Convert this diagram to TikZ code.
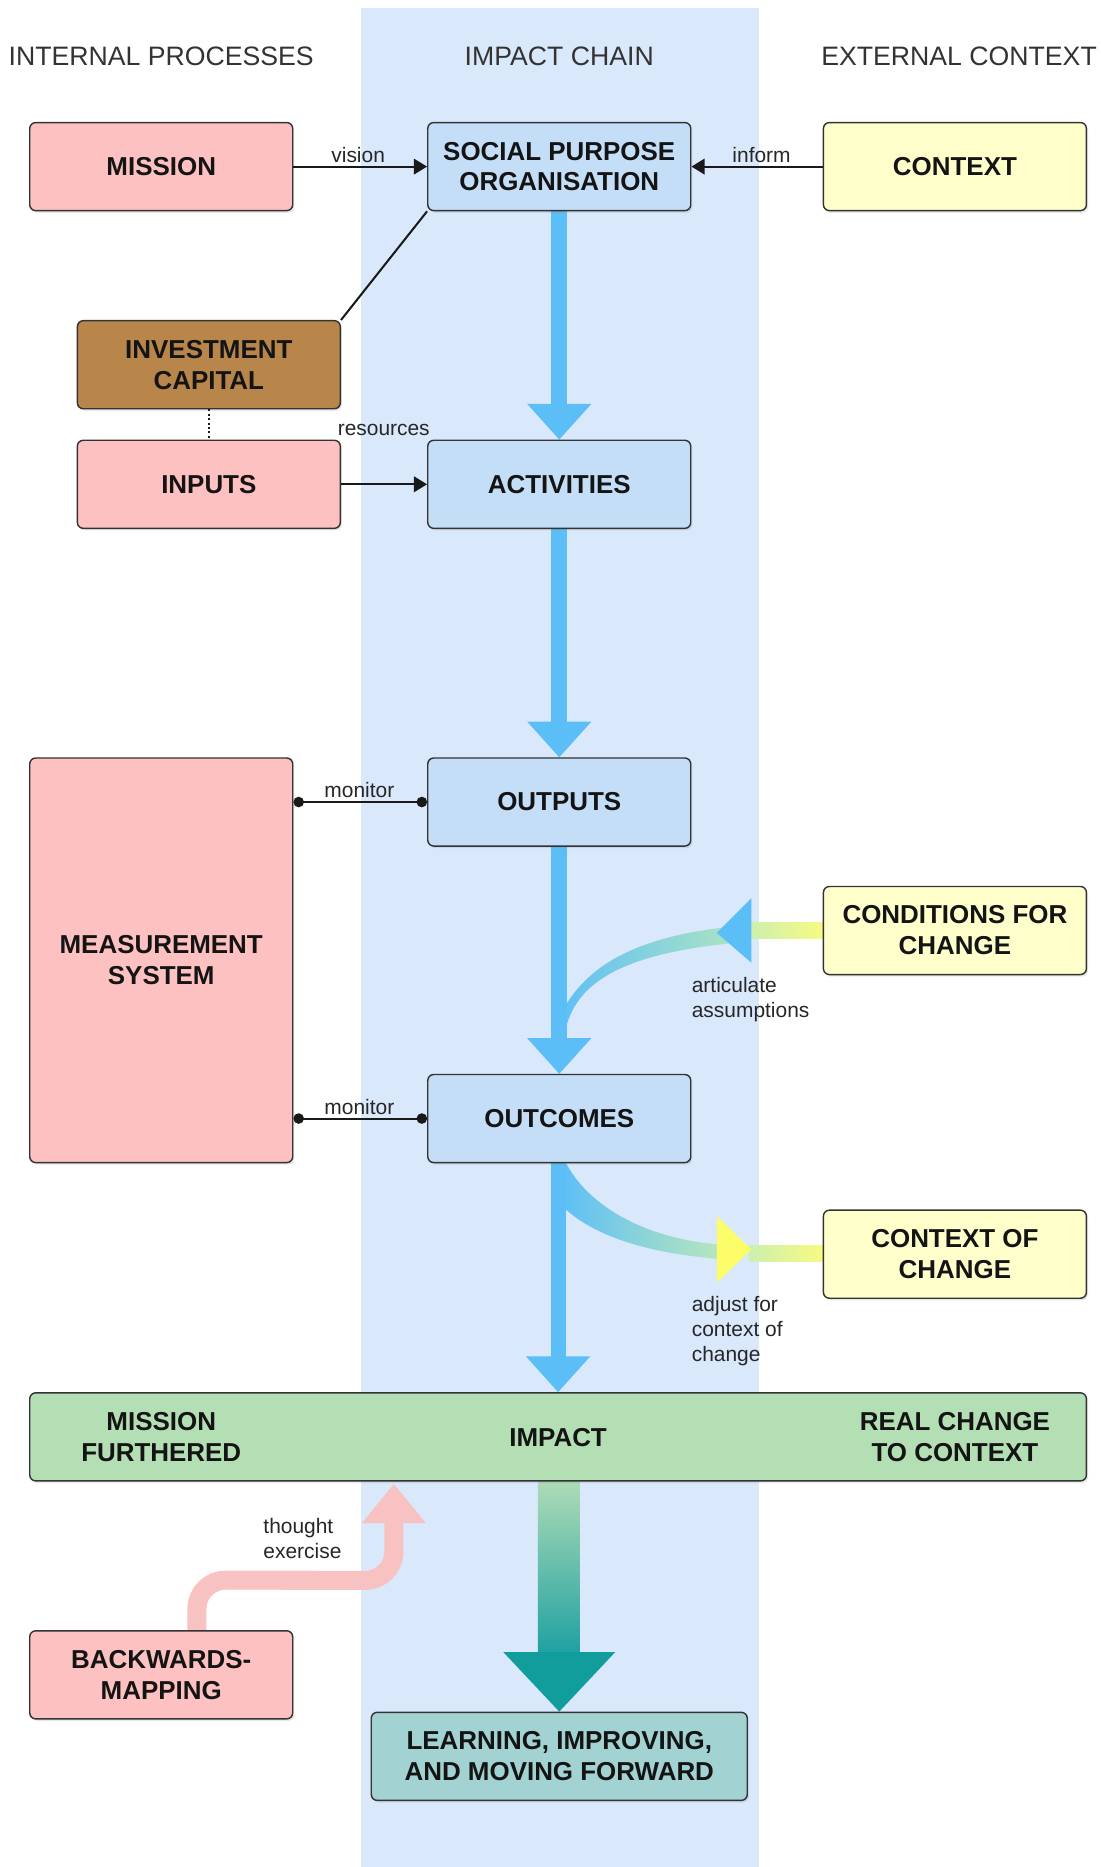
\documentclass[tikz,border=0pt]{standalone}
\usepackage{fontspec}
\setmainfont{Liberation Sans}
\usetikzlibrary{arrows.meta,calc,shadows}
\definecolor{bandblue}{HTML}{DAE8FC}
\definecolor{boxblue}{HTML}{C4DEF8}
\definecolor{boxpink}{HTML}{FDC1C1}
\definecolor{boxyellow}{HTML}{FFFFCC}
\definecolor{boxbrown}{HTML}{B8864B}
\definecolor{boxgreen}{HTML}{B4DFB4}
\definecolor{boxteal}{HTML}{A2D2D2}
\definecolor{flowblue}{HTML}{5CBEF7}
\definecolor{flowgreen}{HTML}{A8E2C6}
\definecolor{flowlime}{HTML}{CDEFAE}
\definecolor{flowyellow}{HTML}{FDFD6A}
\definecolor{flowpale}{HTML}{F8FA82}
\definecolor{arrowpink}{HTML}{F8C2C2}
\definecolor{tealtop}{HTML}{ADDBB6}
\definecolor{tealbot}{HTML}{1FA1A1}
\definecolor{tealhead}{HTML}{129D9D}
\definecolor{edge}{HTML}{333333}
\pgfdeclarelayer{bg}
\pgfdeclarelayer{mid}
\pgfsetlayers{bg,mid,main}
\newcommand\myflowarrow[2]{%
  \fill[flowblue] ($(#1.south)+(-6.75,0)$) rectangle ($(#2.north)+(6.75,-29)$);
  \fill[flowblue] ($(#2.north)+(-27,-30)$) -- ($(#2.north)+(27,-30)$) -- (#2.north) -- cycle;}
\begin{document}
\begin{tikzpicture}[x=0.5pt,y=-0.5pt,
  box/.style={draw=edge, line width=0.6pt, rounded corners=2.5pt,
    minimum width=110.5pt, minimum height=37pt, inner sep=0pt, align=center,
    font=\bfseries\fontsize{10.9}{13}\selectfont, text=black!92,
    drop shadow={shadow xshift=0.7pt, shadow yshift=-0.9pt, opacity=0.18}},
  plain/.style={inner sep=0pt, align=center, font=\bfseries\fontsize{10.9}{13}\selectfont, text=black!92},
  lbl/.style={inner sep=0pt, font=\fontsize{8.8}{10.5}\selectfont, text=black!85},
  hdr/.style={inner sep=0pt, font=\fontsize{11.2}{13}\selectfont, text=black!80},
  conn/.style={line width=0.85pt, draw=black!90},
  tip/.style={-{Triangle[length=5.5pt,width=6.5pt]}},
  dots/.style={{Circle[length=4.4pt]}-{Circle[length=4.4pt]}}]
\useasboundingbox (0,0) rectangle (925,1569);

% headers
\node[hdr] (hIP) at (135.5,47) {INTERNAL PROCESSES};
\node[hdr] (hIC) at (470,47) {IMPACT CHAIN};
\node[hdr] (hEC) at (806,47) {EXTERNAL CONTEXT};

% boxes
\node[box, fill=boxpink] (mission) at (135.5,140) {MISSION};
\node[box, fill=boxblue] (spo) at (470,140) {SOCIAL PURPOSE\\ORGANISATION};
\node[box, fill=boxyellow] (context) at (802.5,140) {CONTEXT};
\node[box, fill=boxbrown] (invest) at (175.5,306.5) {INVESTMENT\\CAPITAL};
\node[box, fill=boxpink] (inputs) at (175.5,407) {INPUTS};
\node[box, fill=boxblue] (activities) at (470,407) {ACTIVITIES};
\node[box, fill=boxblue] (outputs) at (470,674) {OUTPUTS};
\node[box, fill=boxpink, minimum height=170pt] (measure) at (135.5,807) {MEASUREMENT\\SYSTEM};
\node[box, fill=boxyellow] (cond) at (802.5,782) {CONDITIONS FOR\\CHANGE};
\node[box, fill=boxblue] (outcomes) at (470,940) {OUTCOMES};
\node[box, fill=boxyellow] (ctxch) at (802.5,1054) {CONTEXT OF\\CHANGE};
\node[box, fill=boxgreen, minimum width=444pt] (impact) at (469,1207.5) {};
\node[plain] (furthered) at (135.5,1208) {MISSION\\FURTHERED};
\node[plain] (impacttxt) at (469,1208) {IMPACT};
\node[plain] (realchange) at (802.5,1208) {REAL CHANGE\\TO CONTEXT};
\node[box, fill=boxpink] (backwards) at (135.5,1407.5) {BACKWARDS-\\MAPPING};
\node[box, fill=boxteal, minimum width=158pt] (learning) at (470,1476) {LEARNING, IMPROVING,\\AND MOVING FORWARD};

% background band
\begin{pgfonlayer}{bg}
  \fill[bandblue] (303,7) rectangle (637.5,1569);
\end{pgfonlayer}

\begin{pgfonlayer}{mid}
  % conditions for change -> chain
  \shade[left color=flowlime, right color=flowpale]
    ($(cond.west)+(-61,-7)$) rectangle ($(cond.west)+(0,7)$);
  \shade[left color=flowblue, right color=flowgreen]
    (612,779) .. controls (530,788) and (480,815) .. (464,872)
    -- (474,872) .. controls (480,830) and (515,803) .. (612,793) -- cycle;
  \fill[flowblue] ($(cond.west)+(-60,-27)$) -- ($(cond.west)+(-60,27)$) -- ($(cond.west)+(-89,2)$) -- cycle;
  % chain -> context of change
  \shade[left color=flowlime, right color=flowpale]
    ($(ctxch.west)+(-62,-7)$) rectangle ($(ctxch.west)+(0,6)$);
  \shade[left color=flowblue, right color=flowgreen!60!flowlime]
    (470,977) -- (476,978) .. controls (490,1005) and (530,1040) .. (606,1046)
    -- (606,1058) .. controls (525,1052) and (490,1030) .. (474,1015) -- (470,1015) -- cycle;
  \fill[flowyellow] ($(ctxch.west)+(-89,-32)$) -- ($(ctxch.west)+(-89,24)$) -- ($(ctxch.west)+(-60,-4)$) -- cycle;
  % main chain arrows
  \myflowarrow{spo}{activities}
  \myflowarrow{activities}{outputs}
  \myflowarrow{outputs}{outcomes}
  \myflowarrow{outcomes}{impact}
  % impact -> learning
  \shade[top color=tealtop, bottom color=tealbot]
    ($(impact.south)+(-17,0)$) rectangle ($(learning.north)+(17,-49)$);
  \fill[tealhead] ($(learning.north)+(-47,-50)$) -- ($(learning.north)+(47,-50)$) -- (learning.north) -- cycle;
  % backwards mapping -> impact
  \coordinate (pk) at ($(impact.south)+(-138,2)$);
  \draw[arrowpink, line width=8pt, rounded corners=12pt]
    ($(backwards.north)+(30,0)$) -- ($(backwards.north)+(30,-42)$) -- ($(pk)+(0,81)$) -- ($(pk)+(0,32)$);
  \fill[arrowpink] ($(pk)+(-27,33)$) -- ($(pk)+(27,33)$) -- (pk) -- cycle;
\end{pgfonlayer}

% thin connectors
\draw[conn, tip] (mission.east) -- (spo.west);
\draw[conn, tip] (context.west) -- (spo.east);
\draw[conn] (spo.south west) -- (invest.north east);
\draw[conn, densely dotted] (invest.south) -- (inputs.north);
\draw[conn, tip] (inputs.east) -- (activities.west);
\draw[conn, dots] (measure.east |- outputs.west) -- (outputs.west);
\draw[conn, dots] (measure.east |- outcomes.west) -- (outcomes.west);

% labels
\node[lbl] (lvision) at (301,130) {vision};
\node[lbl] (linform) at (640,130) {inform};
\node[lbl] (lres) at (322.5,361) {resources};
\node[lbl] (lmon1) at (302,664) {monitor};
\node[lbl] (lmon2) at (302,930) {monitor};
\node[lbl, align=left, anchor=west] (lart) at (581,840) {articulate\\assumptions};
\node[lbl, align=left, anchor=west] (ladj) at (581,1119) {adjust for\\context of\\change};
\node[lbl, align=left, anchor=west] (lthought) at (221,1293) {thought\\exercise};
\end{tikzpicture}
\end{document}
